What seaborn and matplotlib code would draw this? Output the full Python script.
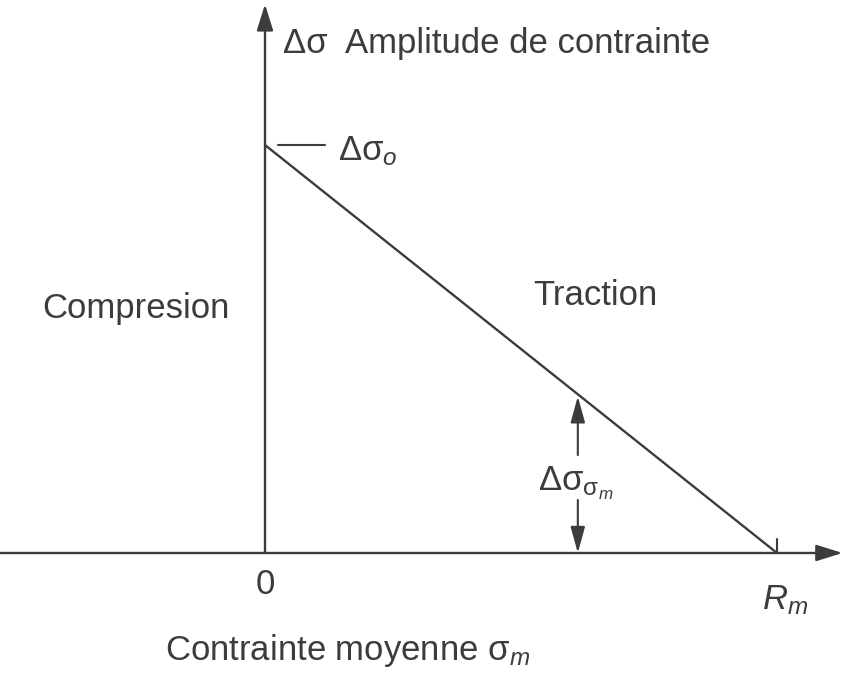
import numpy as np
import seaborn as sns
import matplotlib.pyplot as plt

# données du diagramme (unités normalisées : Rm = 1, delta_sigma_0 = 1)
sigma_m = [0.0, 1.0]          # contrainte moyenne : 0 -> Rm
delta_sigma = [1.0, 0.0]      # amplitude : delta_sigma_0 -> 0
x_ticks = [0.0, 1.0]
x_tick_labels = ['0', '$R_m$']
sigma_m_point = 0.611         # position de la double flèche

sns.set_style('white')
plt.rcParams['font.family'] = ['Liberation Sans', 'DejaVu Sans']
plt.rcParams['mathtext.fontset'] = 'custom'
plt.rcParams['mathtext.rm'] = 'Liberation Sans'
plt.rcParams['mathtext.it'] = 'Liberation Sans:italic'
plt.rcParams['mathtext.sf'] = 'Liberation Sans'

ink = '#3c3c3c'
fs = 25

fig = plt.figure(figsize=(8.46, 6.76), dpi=100)
ax = fig.add_axes([0, 0, 1, 1])
ax.set_xlim(-0.5176, 1.1348)
ax.set_ylim(-0.3015, 1.3554)
ax.axis('off')

# droite de Goodman
sns.lineplot(x=sigma_m, y=delta_sigma, ax=ax, color=ink, lw=1.7)

# axes avec flèches
head = '-|>,head_length=0.8,head_width=0.25'
arrow = dict(arrowstyle=head, color=ink, lw=1.7, mutation_scale=20, shrinkA=0, shrinkB=0)
ax.annotate('', xy=(1.128, 0), xytext=(-0.52, 0), arrowprops=arrow)
ax.annotate('', xy=(0, 1.345), xytext=(0, 0), arrowprops=arrow)

# petit trait à Rm
ax.plot([x_ticks[1], x_ticks[1]], [0, 0.035], color=ink, lw=1.5)

# repère delta_sigma_0
ax.plot([0.025, 0.117], [delta_sigma[0], delta_sigma[0]], color=ink, lw=1.5)

# double flèche delta_sigma_sigma_m
y_top = delta_sigma[0] * (1 - sigma_m_point / sigma_m[1])
arrow2 = dict(arrowstyle='-|>,head_length=0.8,head_width=0.22', color=ink, lw=1.5,
              mutation_scale=20, shrinkA=0, shrinkB=0)
ax.annotate('', xy=(sigma_m_point, y_top - 0.005), xytext=(sigma_m_point, 0.24), arrowprops=arrow2)
ax.annotate('', xy=(sigma_m_point, 0), xytext=(sigma_m_point, 0.13), arrowprops=arrow2)

# textes
ax.text(0.035, 1.250, 'Δσ  Amplitude de contrainte', fontsize=fs, color=ink, ha='left', va='center')
ax.text(0.143, 0.985, 'Δσ$_{o}$', fontsize=fs, color=ink, ha='left', va='center')
ax.text(-0.252, 0.600, 'Compresion', fontsize=fs, color=ink, ha='center', va='center')
ax.text(0.646, 0.632, 'Traction', fontsize=fs, color=ink, ha='center', va='center')
ax.text(0.533, 0.170, r'Δσ$_{\mathregular{σ}_{m}}$', fontsize=fs, color=ink, ha='left', va='center')
ax.text(x_ticks[0], -0.078, x_tick_labels[0], fontsize=fs, color=ink, ha='center', va='center')
ax.text(x_ticks[1] + 0.016, -0.115, x_tick_labels[1], fontsize=fs, color=ink, ha='center', va='center')
ax.text(-0.195, -0.238, r'Contrainte moyenne σ$_{m}$', fontsize=fs, color=ink, ha='left', va='center')

fig.savefig('out.png', dpi=100, facecolor='white')
